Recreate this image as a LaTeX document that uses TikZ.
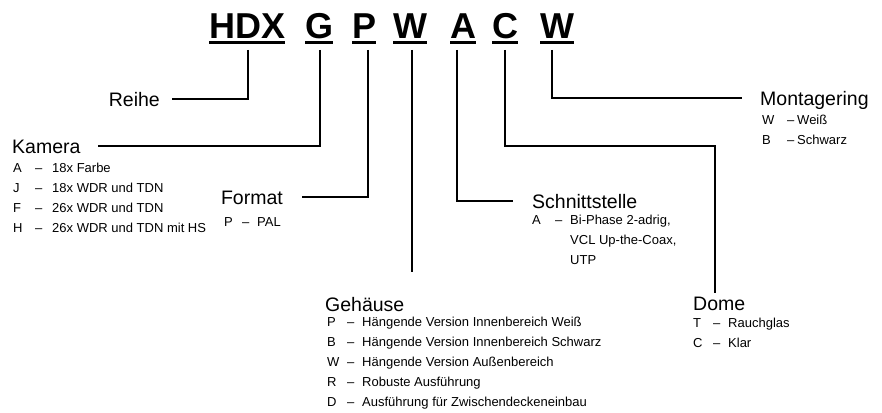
\documentclass[tikz,border=0pt]{standalone}
\usepackage{fontspec}
\setmainfont{Liberation Sans}
\newlength\colA
\newlength\colB
\newcommand\setcols[2]{\setlength\colA{#1}\setlength\colB{#2}}
\newcommand\itm[2]{\makebox[\colA][l]{#1}\makebox[\colB][l]{–}#2}
\newcommand\cnt[1]{\hspace*{\dimexpr\colA+\colB\relax}#1}
\begin{document}
\begin{tikzpicture}[x=1pt,y=-1pt,
  code/.style={font=\fontsize{36}{36}\selectfont\bfseries, inner sep=0pt, anchor=base west},
  ul/.style={line width=2.5pt},
  con/.style={line width=2pt},
  lbl/.style={font=\fontsize{19.5}{20}\selectfont, inner sep=0pt, text height=14pt, text depth=0pt},
  lst/.style 2 args={font={\fontsize{13}{20}\selectfont\setcols{#1}{#2}}, align=left, inner sep=0pt, anchor=north west},
]
\useasboundingbox (0,0) rectangle (882,412);

% code letters
\node[code] (hdx) at (209,38) {HDX};
\node[code] (g)   at (305,38) {G};
\node[code] (p)   at (352,38) {P};
\node[code] (w1)  at (393,38) {W};
\node[code] (a)   at (450,38) {A};
\node[code] (c)   at (492,38) {C};
\node[code] (w2)  at (540,38) {W};
\foreach \n in {hdx,g,p,w1,a,c,w2}
  \draw[ul] ([yshift=-4.5pt]\n.base west) -- ([yshift=-4.5pt]\n.base east);

% connector tops and free ends
\coordinate (tH) at (248,50);
\coordinate (tG) at (320,50);
\coordinate (tP) at (368,50);
\coordinate (tW) at (412,50);
\coordinate (tA) at (457,50);
\coordinate (tC) at (505,50);
\coordinate (tM) at (552,50);
\coordinate (bW) at (412,272);
\coordinate (kC) at (715,146);
\coordinate (bC) at (715,293);

% labels
\node[lbl, anchor=east] (reihe) at (160,99) {Reihe};
\node[lbl, anchor=west] (kamera) at (12,146) {Kamera};
\node[lbl, anchor=east] (format) at (283,197) {Format};
\node[lbl, anchor=north west] (gehaeuse) at (325,297) {Gehäuse};
\node[lbl, anchor=west] (schnitt) at (532,201) {Schnittstelle};
\node[lbl, anchor=north west] (dome) at (693,296) {Dome};
\node[lbl, anchor=west] (montage) at (760,98) {Montagering};

% connectors
\draw[con] (tH) |- ([xshift=12pt]reihe.east);
\draw[con] (tG) |- ([xshift=17pt]kamera.east);
\draw[con] (tP) |- ([xshift=19pt]format.east);
\draw[con] (tW) -- (bW);
\draw[con] (tA) |- ([xshift=-19pt]schnitt.west);
\draw[con] (tC) |- (kC) -- (bC);
\draw[con] (tM) |- ([xshift=-18pt]montage.west);

% lists
\node[lst={22pt}{17pt}] (kamlist) at (13,162.5)
  {\itm{A}{18x Farbe}\\ \itm{J}{18x WDR und TDN}\\ \itm{F}{26x WDR und TDN}\\ \itm{H}{26x WDR und TDN mit HS}};
\node[lst={18pt}{15pt}] (fmtlist) at (224,217.5) {\itm{P}{PAL}};
\node[lst={20pt}{15pt}] (gehlist) at (327,316.5)
  {\itm{P}{Hängende Version Innenbereich Weiß}\\
   \itm{B}{Hängende Version Innenbereich Schwarz}\\
   \itm{W}{Hängende Version Außenbereich}\\
   \itm{R}{Robuste Ausführung}\\
   \itm{D}{Ausführung für Zwischendeckeneinbau}};
\node[lst={23pt}{15pt}] (schlist) at (532,214.5)
  {\itm{A}{Bi-Phase 2-adrig,}\\ \cnt{VCL Up-the-Coax,}\\ \cnt{UTP}};
\node[lst={20pt}{15pt}] (domelist) at (693,317.5) {\itm{T}{Rauchglas}\\ \itm{C}{Klar}};
\node[lst={25pt}{10pt}] (montlist) at (762,115) {\itm{W}{Weiß}\\ \itm{B}{Schwarz}};
\end{tikzpicture}
\end{document}
